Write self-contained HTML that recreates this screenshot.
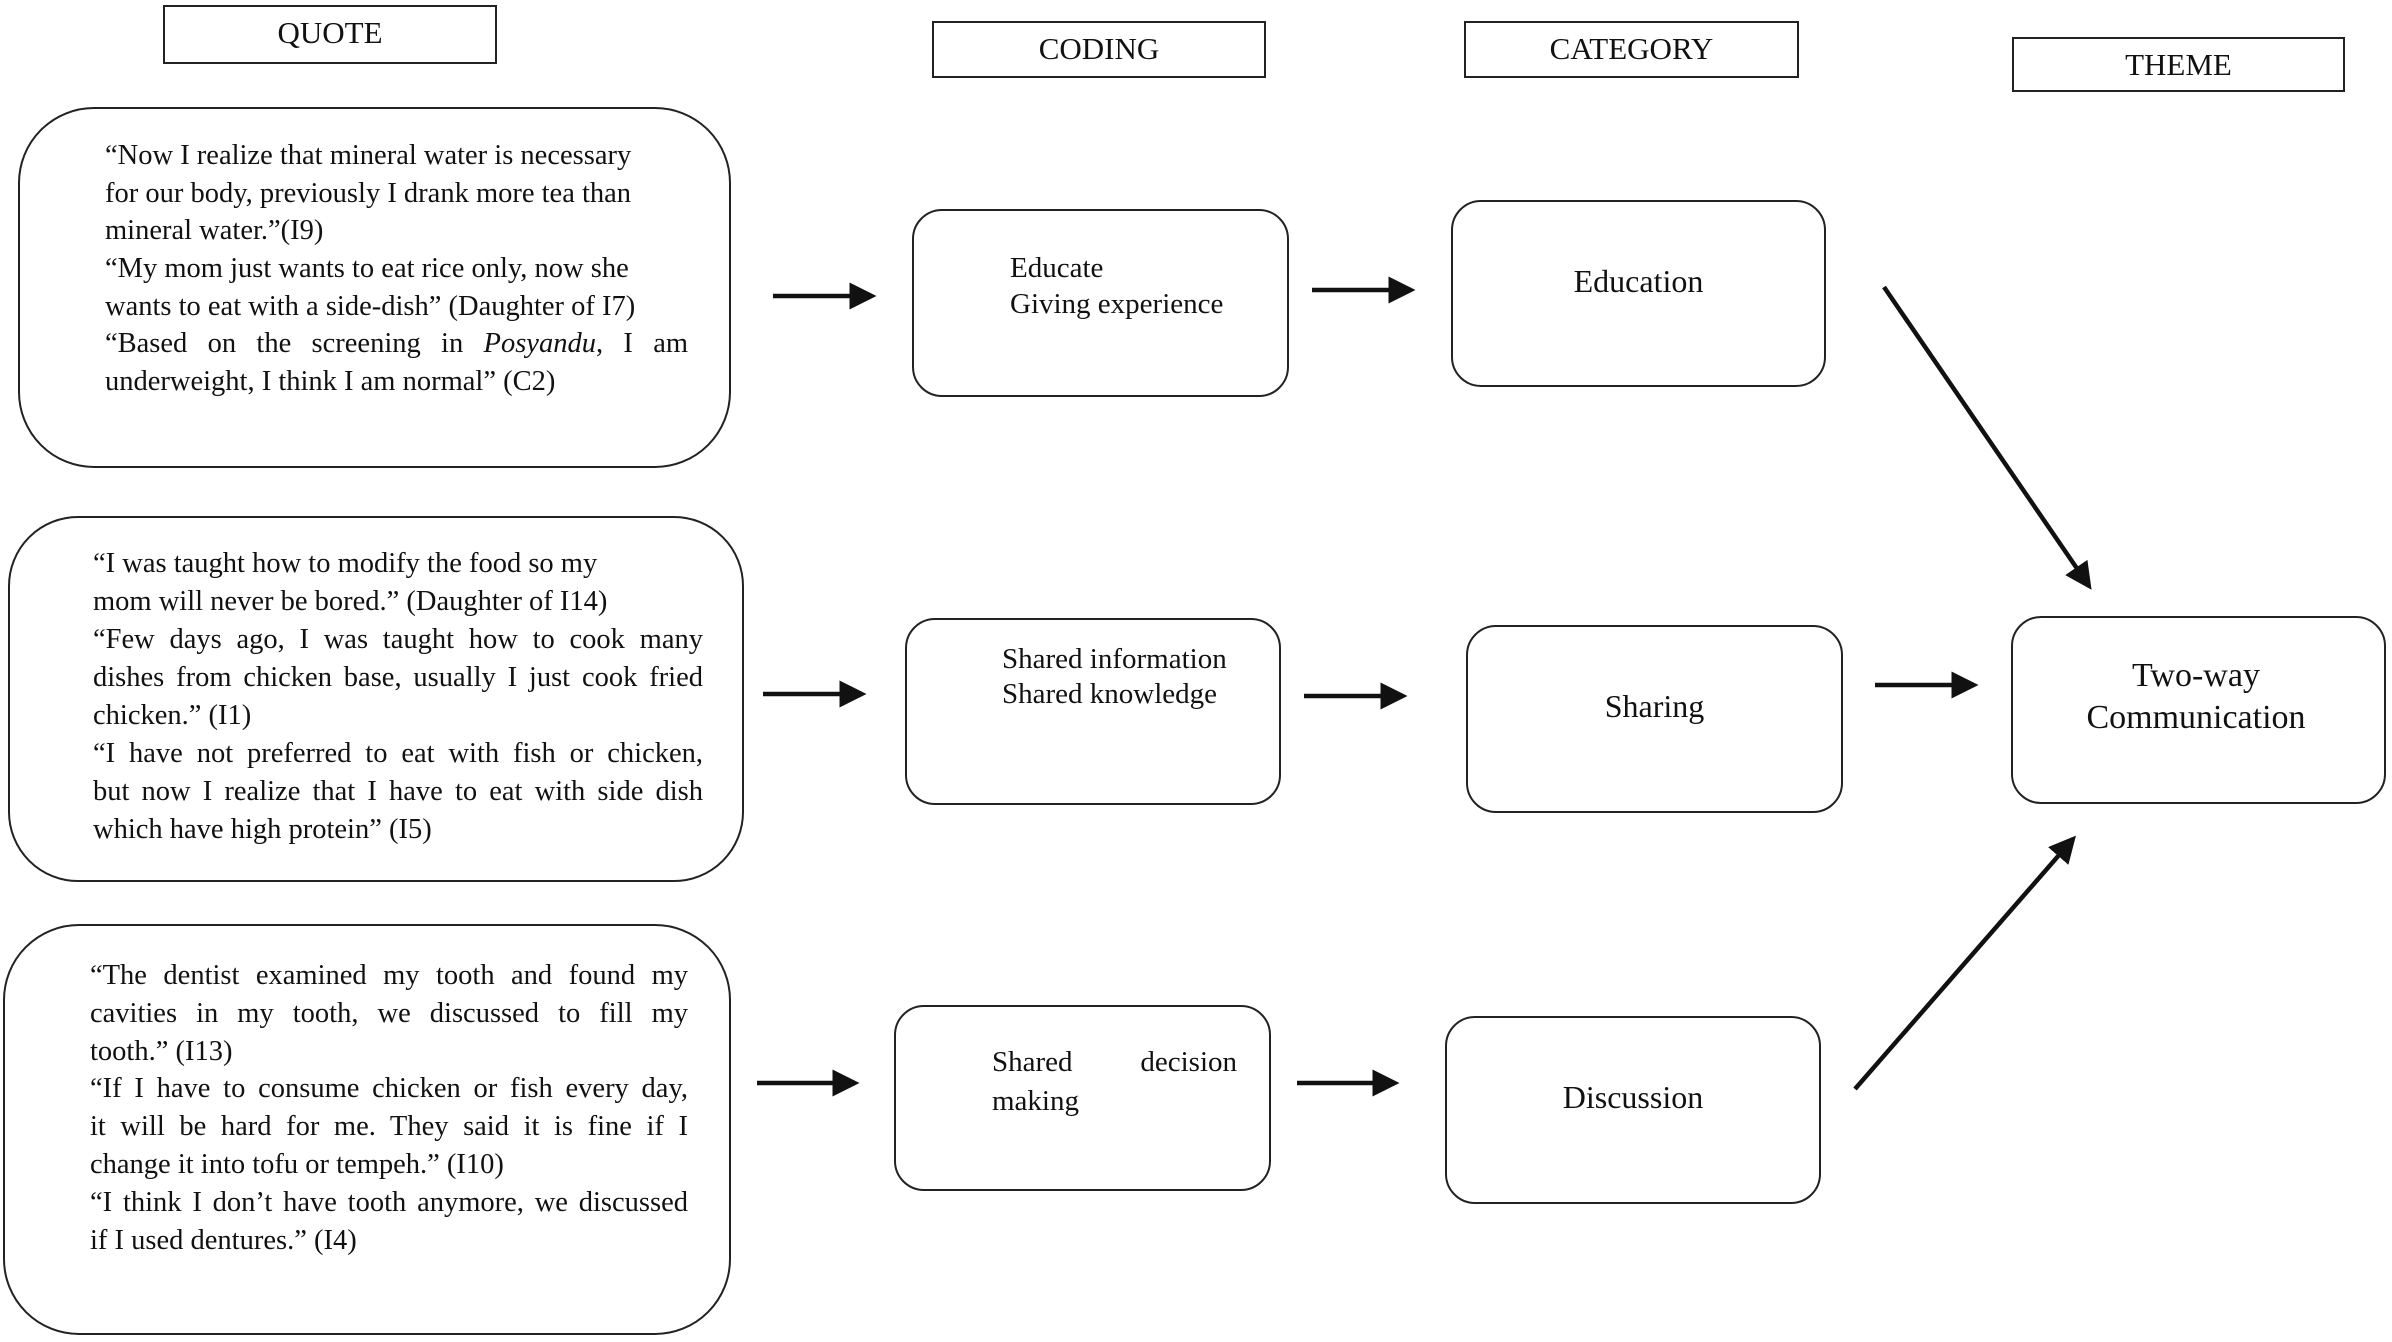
<!DOCTYPE html>
<html><head><meta charset="utf-8"><style>
body{margin:0;width:2392px;height:1342px;background:#fff;position:relative;overflow:hidden;font-family:"Liberation Serif",serif;color:#111}
.b{position:absolute;border:2.5px solid #222;box-sizing:border-box;background:#fff}
.h{position:absolute;border:2.5px solid #222;box-sizing:border-box;font-size:31px;text-align:center;line-height:52px}
.l{position:absolute;font-size:28.5px;line-height:38px;white-space:nowrap}
.j{text-align:justify;text-align-last:justify;white-space:normal}
.c{position:absolute;font-size:32px;text-align:center;line-height:40px}
svg{position:absolute;left:0;top:0}
</style></head><body>
<div class="h" style="left:163px;top:5px;width:334px;height:59px">QUOTE</div>
<div class="h" style="left:932px;top:21px;width:334px;height:57px">CODING</div>
<div class="h" style="left:1464px;top:21px;width:335px;height:57px">CATEGORY</div>
<div class="h" style="left:2012px;top:37px;width:333px;height:55px">THEME</div>

<div class="b" style="left:18px;top:107px;width:713px;height:361px;border-radius:76px"></div>
<div class="b" style="left:8px;top:516px;width:736px;height:366px;border-radius:70px"></div>
<div class="b" style="left:3px;top:924px;width:728px;height:411px;border-radius:76px"></div>

<div class="b" style="left:912px;top:209px;width:377px;height:188px;border-radius:30px"></div>
<div class="b" style="left:905px;top:618px;width:376px;height:187px;border-radius:30px"></div>
<div class="b" style="left:894px;top:1005px;width:377px;height:186px;border-radius:30px"></div>
<div class="b" style="left:1451px;top:200px;width:375px;height:187px;border-radius:30px"></div>
<div class="b" style="left:1466px;top:625px;width:377px;height:188px;border-radius:30px"></div>
<div class="b" style="left:1445px;top:1016px;width:376px;height:188px;border-radius:30px"></div>
<div class="b" style="left:2011px;top:616px;width:375px;height:188px;border-radius:30px"></div>

<div class="l" style="left:105px;top:137px">“Now I realize that mineral water is necessary</div>
<div class="l" style="left:105px;top:175px">for our body, previously I drank more tea than</div>
<div class="l" style="left:105px;top:212px">mineral water.”(I9)</div>
<div class="l" style="left:105px;top:250px">“My mom just wants to eat rice only, now she</div>
<div class="l" style="left:105px;top:288px">wants to eat with a side-dish” (Daughter of I7)</div>
<div class="l j" style="left:105px;top:325px;width:583px">“Based on the screening in <i>Posyandu</i>, I am</div>
<div class="l" style="left:105px;top:363px">underweight, I think I am normal” (C2)</div>

<div class="l" style="left:93px;top:545px">“I was taught how to modify the food so my</div>
<div class="l" style="left:93px;top:583px">mom will never be bored.” (Daughter of I14)</div>
<div class="l j" style="left:93px;top:621px;width:610px">“Few days ago, I was taught how to cook many</div>
<div class="l j" style="left:93px;top:659px;width:610px">dishes from chicken base, usually I just cook fried</div>
<div class="l" style="left:93px;top:697px">chicken.” (I1)</div>
<div class="l j" style="left:93px;top:735px;width:610px">“I have not preferred to eat with fish or chicken,</div>
<div class="l j" style="left:93px;top:773px;width:610px">but now I realize that I have to eat with side dish</div>
<div class="l" style="left:93px;top:811px">which have high protein” (I5)</div>

<div class="l j" style="left:90px;top:957px;width:598px">“The dentist examined my tooth and found my</div>
<div class="l j" style="left:90px;top:995px;width:598px">cavities in my tooth, we discussed to fill my</div>
<div class="l" style="left:90px;top:1033px">tooth.” (I13)</div>
<div class="l j" style="left:90px;top:1070px;width:598px">“If I have to consume chicken or fish every day,</div>
<div class="l j" style="left:90px;top:1108px;width:598px">it will be hard for me. They said it is fine if I</div>
<div class="l" style="left:90px;top:1146px">change it into tofu or tempeh.” (I10)</div>
<div class="l j" style="left:90px;top:1184px;width:598px">“I think I don’t have tooth anymore, we discussed</div>
<div class="l" style="left:90px;top:1222px">if I used dentures.” (I4)</div>

<div class="l" style="left:1010px;top:249px;font-size:29px">Educate</div>
<div class="l" style="left:1010px;top:285px;font-size:29px">Giving experience</div>
<div class="l" style="left:1002px;top:640px;font-size:29px">Shared information</div>
<div class="l" style="left:1002px;top:675px;font-size:29px">Shared knowledge</div>
<div class="l j" style="left:992px;top:1043px;width:245px;font-size:29px">Shared decision</div>
<div class="l" style="left:992px;top:1082px;font-size:29px">making</div>

<div class="c" style="left:1451px;top:261px;width:375px">Education</div>
<div class="c" style="left:1466px;top:686px;width:377px">Sharing</div>
<div class="c" style="left:1445px;top:1077px;width:376px">Discussion</div>
<div class="c" style="left:2011px;top:655px;width:370px;font-size:34px;line-height:42px">Two-way<br>Communication</div>

<svg width="2392" height="1342">
<defs><marker id="a" markerWidth="6" markerHeight="6" refX="5" refY="3" orient="auto" markerUnits="strokeWidth"><path d="M0,0 L6,3 L0,6 z" fill="#111"/></marker></defs>
<g stroke="#111" stroke-width="4.5" marker-end="url(#a)">
<line x1="773" y1="296" x2="872" y2="296"/>
<line x1="1312" y1="290" x2="1411" y2="290"/>
<line x1="763" y1="694" x2="862" y2="694"/>
<line x1="1304" y1="696" x2="1403" y2="696"/>
<line x1="1875" y1="685" x2="1974" y2="685"/>
<line x1="757" y1="1083" x2="855" y2="1083"/>
<line x1="1297" y1="1083" x2="1395" y2="1083"/>
<line x1="1884" y1="287" x2="2089" y2="586"/>
<line x1="1855" y1="1089" x2="2073" y2="839"/>
</g></svg>
</body></html>
